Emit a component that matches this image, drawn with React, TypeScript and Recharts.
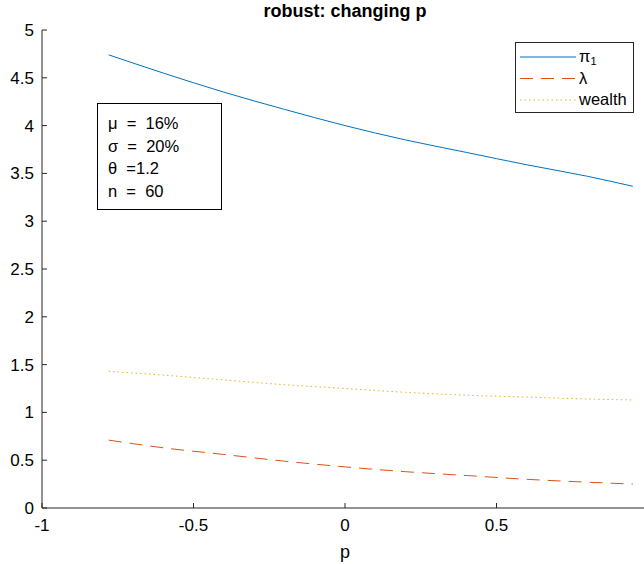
import React from "react";
import { LineChart, Line, XAxis, YAxis } from "recharts";

// sampled values of p and the three curves
const pValues = [-0.78, -0.6, -0.4, -0.2, 0, 0.2, 0.4, 0.6, 0.8, 0.95];
const piValues = [4.74, 4.55, 4.35, 4.17, 4.0, 3.85, 3.72, 3.59, 3.47, 3.365];
const lambdaValues = [0.71, 0.63, 0.56, 0.49, 0.43, 0.38, 0.34, 0.3, 0.27, 0.25];
const wealthValues = [1.43, 1.39, 1.34, 1.29, 1.25, 1.21, 1.18, 1.16, 1.14, 1.13];

const xTicks = [-1, -0.5, 0, 0.5, 1];
const yTicks = [0, 0.5, 1, 1.5, 2, 2.5, 3, 3.5, 4, 4.5, 5];
const paramLines = ["μ  =  16%", "σ  =  20%", "θ  =1.2", "n  =  60"];

const data = pValues.map((p, i) => ({
  p,
  pi: piValues[i],
  lambda: lambdaValues[i],
  wealth: wealthValues[i],
}));

const FONT = "'Liberation Sans', Arial, Helvetica, sans-serif";
const AXIS = "#262626";
const BLUE = "#0072BD";
const ORANGE = "#D95319";
const YELLOW = "#EDB120";

const fmt = (v: number) => String(v);
// the last x tick sits past the right edge, so its label is left empty
const fmtX = (v: number) => (v === 1 ? "" : String(v));

const legendItems = [
  { key: "pi", color: BLUE, dash: undefined as string | undefined, label: <>π<tspan fontSize={11} dy={3}>1</tspan></> },
  { key: "lambda", color: ORANGE, dash: "13 8", label: <>λ</> },
  { key: "wealth", color: YELLOW, dash: "1.5 3", label: <>wealth</> },
];

const LegendBox = () => (
  <svg width={120} height={72} style={{ display: "block" }}>
    <rect x={0.5} y={0.5} width={118} height={70} fill="#fff" stroke={AXIS} strokeWidth={1} />
    {legendItems.map((it, i) => {
      const cy = 15 + i * 21.5;
      return (
        <g key={it.key}>
          <line x1={5} x2={61} y1={cy} y2={cy} stroke={it.color} strokeWidth={1} strokeDasharray={it.dash} />
          <text x={64} y={cy + 5} fontFamily={FONT} fontSize={16.5} fill="#000">
            {it.label}
          </text>
        </g>
      );
    })}
  </svg>
);

export default function App() {
  return (
    <div
      style={{
        position: "absolute",
        left: 0,
        top: 0,
        width: 644,
        height: 564,
        overflow: "hidden",
        background: "#fff",
        fontFamily: FONT,
      }}
    >
      <LineChart width={652} height={564} data={data} margin={{ top: 30, right: 4, bottom: 0, left: 0 }}>
        <XAxis
          dataKey="p"
          type="number"
          domain={[-1, 1]}
          ticks={xTicks}
          tickFormatter={fmtX}
          height={56}
          stroke={AXIS}
          tickSize={-5}
          tickMargin={16}
          tick={{ fill: "#000", fontSize: 17, fontFamily: FONT }}
          label={{ value: "p", position: "insideBottom", offset: 6, fill: "#000", fontSize: 18, fontFamily: FONT }}
        />
        <XAxis
          xAxisId="top"
          orientation="top"
          type="number"
          domain={[-1, 1]}
          ticks={xTicks}
          height={0}
          stroke={AXIS}
          tickSize={-5}
          tick={false}
        />
        <YAxis
          type="number"
          domain={[0, 5]}
          ticks={yTicks}
          tickFormatter={fmt}
          width={42}
          stroke={AXIS}
          tickSize={-5}
          tickMargin={13}
          tick={{ fill: "#000", fontSize: 17, fontFamily: FONT }}
        />
        <YAxis
          yAxisId="right"
          orientation="right"
          type="number"
          domain={[0, 5]}
          ticks={yTicks}
          width={0}
          stroke={AXIS}
          tickSize={-5}
          tick={false}
        />
        <Line dataKey="pi" type="monotone" stroke={BLUE} strokeWidth={1} dot={false} isAnimationActive={false} />
        <Line
          dataKey="lambda"
          type="monotone"
          stroke={ORANGE}
          strokeWidth={1}
          strokeDasharray="13 8"
          dot={false}
          isAnimationActive={false}
        />
        <Line
          dataKey="wealth"
          type="monotone"
          stroke={YELLOW}
          strokeWidth={1}
          strokeDasharray="1.5 3"
          dot={false}
          isAnimationActive={false}
        />
      </LineChart>

      <div style={{ position: "absolute", left: 515, top: 42 }}>
        <LegendBox />
      </div>

      <div
        style={{
          position: "absolute",
          left: 0,
          top: 1,
          width: 690,
          textAlign: "center",
          fontWeight: "bold",
          fontSize: 18,
          color: "#000",
        }}
      >
        robust: changing p
      </div>

      <div
        style={{
          position: "absolute",
          left: 97,
          top: 103,
          width: 123,
          height: 105,
          border: "1px solid #000",
          background: "#fff",
          boxSizing: "content-box",
          padding: 0,
        }}
      >
        <div style={{ paddingLeft: 10, paddingTop: 8, fontSize: 16.5, lineHeight: "22.5px", color: "#000", whiteSpace: "pre" }}>
          {paramLines.map((t) => (
            <div key={t}>{t}</div>
          ))}
        </div>
      </div>
    </div>
  );
}
